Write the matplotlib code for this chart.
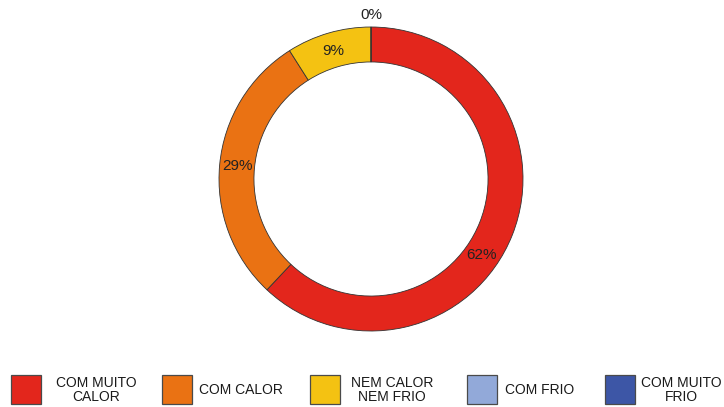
import numpy as np
import matplotlib
matplotlib.use("Agg")
import matplotlib.pyplot as plt
from matplotlib.patches import Rectangle

plt.rcParams['font.family'] = ['Liberation Sans', 'DejaVu Sans']

categories = ['COM MUITO\nCALOR', 'COM CALOR', 'NEM CALOR\nNEM FRIO', 'COM FRIO', 'COM MUITO\nFRIO']
values = [62, 29, 9, 0, 0]
colors = ['#e3261c', '#ea7213', '#f4c212', '#92a9d9', '#3d56a6']

W, H = 724, 407
fig = plt.figure(figsize=(W / 100, H / 100), dpi=100)

# donut axes, centre ~ (371,179) px, outer radius ~152 px
cx, cy, r = 371, 179, 152
half = 1.2 * r
ax = fig.add_axes([(cx - half) / W, (H - cy - half) / H, 2 * half / W, 2 * half / H])

wedges, _ = ax.pie(values, colors=colors, startangle=90, counterclock=False,
                   radius=1.0, wedgeprops=dict(width=0.23, edgecolor='#333333', linewidth=0.6))
ax.set_xlim(-1.2, 1.2)
ax.set_ylim(-1.2, 1.2)
ax.set_aspect('equal')
ax.axis('off')

# percentage labels
total = sum(values)
ang = 90.0
zero_done = False
for i, v in enumerate(values):
    span = 360.0 * v / total
    mid = ang - span / 2
    ang -= span
    if v == 0:
        if zero_done:
            continue
        zero_done = True
        ax.text(0, 1.08, '0%', ha='center', va='center', fontsize=11, color='#222222')
        continue
    if i == 0:
        mid -= 13  # the big slice label sits lower on the ring
    ax.text(0.88 * np.cos(np.radians(mid)), 0.88 * np.sin(np.radians(mid)), f'{v}%',
            ha='center', va='center', fontsize=11, color='#222222')

# legend drawn by hand along the bottom
sq_x = [11, 162, 310, 467, 605]
txt_x = [96, 241, 392, 540, 681]
for i, lab in enumerate(categories):
    fig.patches.append(Rectangle((sq_x[i] / W, (H - 404) / H), 30 / W, 29 / H,
                                 transform=fig.transFigure, facecolor=colors[i],
                                 edgecolor='#4a4a4a', linewidth=0.9))
    fig.text(txt_x[i] / W, (H - 390) / H, lab, ha='center', va='center',
             fontsize=10, linespacing=1.0, color='#1a1a1a')

fig.savefig('out.png', dpi=100, facecolor='white')
